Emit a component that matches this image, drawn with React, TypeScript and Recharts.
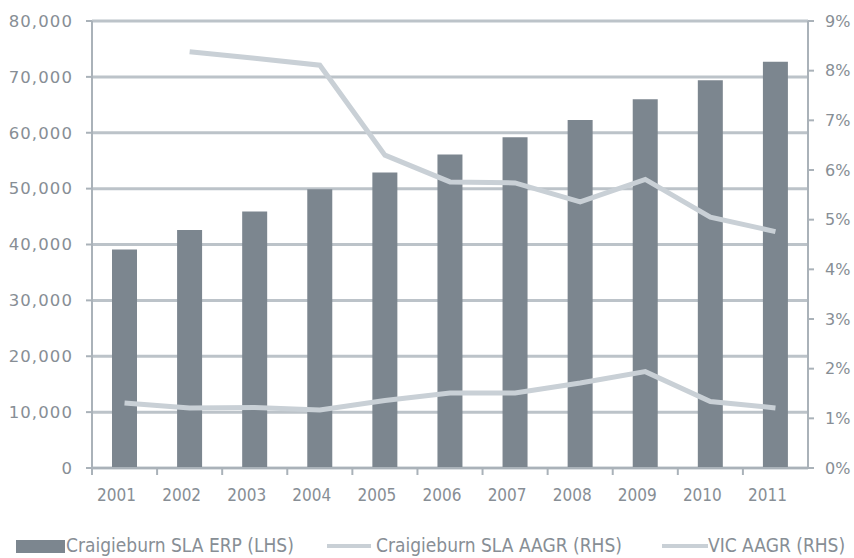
import React from "react";
import {
  ComposedChart,
  Bar,
  Line,
  XAxis,
  YAxis,
  CartesianGrid
} from "recharts";

const years = ["2001", "2002", "2003", "2004", "2005", "2006", "2007", "2008", "2009", "2010", "2011"];
const erp = [39100, 42600, 45900, 49900, 52900, 56100, 59200, 62300, 66000, 69400, 72700];
const craigieburnAagr = [null, 8.38, 8.25, 8.11, 6.3, 5.76, 5.74, 5.36, 5.81, 5.05, 4.76];
const vicAagr = [1.31, 1.21, 1.22, 1.17, 1.36, 1.51, 1.51, 1.71, 1.94, 1.34, 1.21];
const leftTicks = [0, 10000, 20000, 30000, 40000, 50000, 60000, 70000, 80000];
const rightTicks = [0, 1, 2, 3, 4, 5, 6, 7, 8, 9];

const data = years.map((year, i) => ({
  year,
  erp: erp[i],
  craigieburn: craigieburnAagr[i],
  vic: vicAagr[i]
}));

const W = 854;
const H = 558;
const LEFT_W = 92;
const RIGHT_W = 46;
const BAND = (W - LEFT_W - RIGHT_W) / years.length;

const GRID = "#bcc3c9";
const AXIS = "#aab2b9";
const BAR = "#7c868f";
const LINE = "#c9d0d6";
const TEXT = "#878e95";

const YearTick = (props: any) => {
  const { x, y, payload } = props;
  return (
    <g>
      <line x1={x - BAND / 2} y1={y - 8} x2={x - BAND / 2} y2={y - 1} stroke={AXIS} strokeWidth={2} />
      <text
        x={x - 8}
        y={y + 25}
        textAnchor="middle"
        fill={TEXT}
        fontSize={17}
        fontFamily="'Liberation Sans Narrow', 'DejaVu Sans Condensed', sans-serif"
      >
        {payload.value}
      </text>
    </g>
  );
};

const LegendRow = () => (
  <div
    style={{
      position: "absolute",
      left: 0,
      top: 534,
      width: W,
      height: 22,
      lineHeight: "22px",
      fontFamily: "'Liberation Sans Narrow', 'DejaVu Sans Condensed', sans-serif",
      fontSize: 19,
      color: TEXT,
      whiteSpace: "nowrap"
    }}
  >
    <span style={{ position: "absolute", left: 16, top: 6, width: 49, height: 13, background: BAR }} />
    <span style={{ position: "absolute", left: 66, top: 0 }}>Craigieburn SLA ERP (LHS)</span>
    <span style={{ position: "absolute", left: 327, top: 10, width: 44, height: 4, background: LINE }} />
    <span style={{ position: "absolute", left: 376, top: 0 }}>Craigieburn SLA AAGR (RHS)</span>
    <span style={{ position: "absolute", left: 662, top: 10, width: 46, height: 4, background: LINE }} />
    <span style={{ position: "absolute", left: 708, top: 0 }}>VIC AAGR (RHS)</span>
  </div>
);

const App: React.FC = () => {
  const tickFont = {
    fill: TEXT,
    fontSize: 16.5,
    fontFamily: "'DejaVu Sans', sans-serif",
    letterSpacing: 1.1
  };

  return (
    <div style={{ position: "absolute", left: 0, top: 0, width: W, height: H, background: "#fff", overflow: "hidden" }}>
      <ComposedChart
        width={W}
        height={H}
        data={data}
        margin={{ top: 21, right: 0, left: 0, bottom: 45 }}
        barCategoryGap={0}
      >
        <CartesianGrid vertical={false} stroke={GRID} strokeWidth={3} yAxisId="left" />
        <XAxis
          dataKey="year"
          height={45}
          axisLine={{ stroke: AXIS, strokeWidth: 2 }}
          tickLine={false}
          tick={<YearTick />}
          interval={0}
        />
        <YAxis
          yAxisId="left"
          width={LEFT_W}
          domain={[0, 80000]}
          ticks={leftTicks}
          tickFormatter={(v: number) => v.toLocaleString("en-US")}
          axisLine={{ stroke: AXIS, strokeWidth: 2 }}
          tickLine={{ stroke: AXIS, strokeWidth: 2 }}
          tickSize={6}
          tickMargin={13}
          tick={tickFont}
        />
        <YAxis
          yAxisId="right"
          orientation="right"
          width={RIGHT_W}
          domain={[0, 9]}
          ticks={rightTicks}
          tickFormatter={(v: number) => `${v}%`}
          axisLine={{ stroke: AXIS, strokeWidth: 2 }}
          tickLine={{ stroke: AXIS, strokeWidth: 2 }}
          tickSize={6}
          tickMargin={11}
          tick={{ ...tickFont, fontSize: 16, letterSpacing: 0, textAnchor: "start" }}
        />
        <Bar yAxisId="left" dataKey="erp" fill={BAR} barSize={25} isAnimationActive={false} />
        <Line
          yAxisId="right"
          dataKey="craigieburn"
          stroke={LINE}
          strokeWidth={5}
          dot={false}
          type="linear"
          isAnimationActive={false}
        />
        <Line
          yAxisId="right"
          dataKey="vic"
          stroke={LINE}
          strokeWidth={5}
          dot={false}
          type="linear"
          isAnimationActive={false}
        />
      </ComposedChart>
      <LegendRow />
    </div>
  );
};

export default App;
